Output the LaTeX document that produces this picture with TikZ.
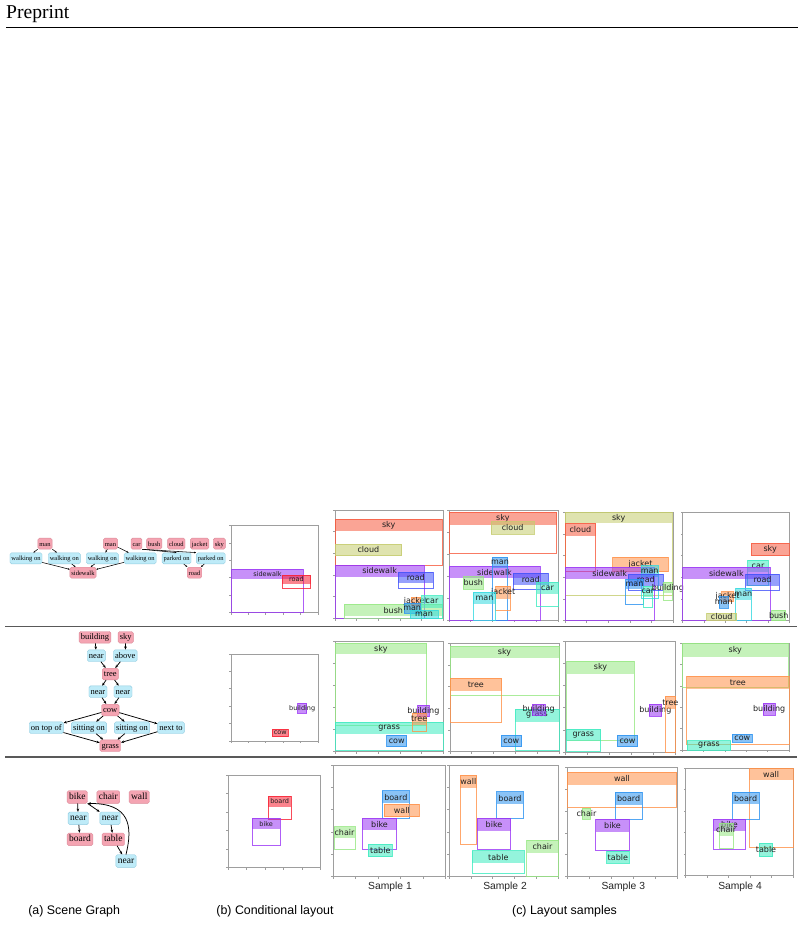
\documentclass[tikz,border=0pt]{standalone}
\usepackage{fontspec}
\setmainfont{Liberation Serif}
\newfontfamily\dvsans{DejaVu Sans}
\newfontfamily\helv{Liberation Sans}
\usetikzlibrary{arrows.meta}
\definecolor{cpurple}{HTML}{9A35F5}
\definecolor{cblue}{HTML}{4152FA}
\definecolor{cdodger}{HTML}{2A92F0}
\definecolor{cturq}{HTML}{33D9E0}
\definecolor{caqua}{HTML}{3DEBC0}
\definecolor{cgreen}{HTML}{96E882}
\definecolor{ckhaki}{HTML}{C5CC6E}
\definecolor{corange}{HTML}{FF9148}
\definecolor{csalmon}{HTML}{F75A3E}
\definecolor{cred}{HTML}{F81E30}
\definecolor{objf}{HTML}{F4A4B2}
\definecolor{objd}{HTML}{DB8C9A}
\definecolor{relf}{HTML}{BEEBF8}
\definecolor{reld}{HTML}{92CCE0}
\newcounter{lbn}
\newcommand\lfs{8}
\newcommand\lb[7]{%
  \stepcounter{lbn}%
  \fill[#1, opacity=.55] (#2,#3) rectangle (#4,#3+#6);
  \draw[#1, draw opacity=.8, line width=.9] (#2,#3) rectangle (#4,#5);
  \node[lbl] (lb\arabic{lbn}) at ({(#2+#4)/2},{#3+#6/2}) {#7};
}
\newcommand\frm[4]{%
  \draw[axfr] (#1,#2) rectangle (#3,#4);
  \foreach \k in {0,...,5}{%
    \draw[axfr] (#1,{#2+\k*(#4-#2)/5}) -- ++(-2.2,0);
    \draw[axfr] ({#1+\k*(#3-#1)/5},#4) -- ++(0,2.2);
  }
}
\begin{document}
\begin{tikzpicture}[x=1pt,y=-1pt,
  axfr/.style={draw=black!38, line width=.9},
  lbl/.style={inner sep=0, text=black!88, font=\dvsans\fontsize{\lfs}{\lfs}\selectfont},
  obj/.style={draw=objd, fill=objf, rounded corners=1.6, line width=.4, text height=.7em, text depth=.22em},
  rel/.style={draw=reld, fill=relf, rounded corners=1.6, line width=.4, text height=.7em, text depth=.22em},
  rowa/.style={font=\fontsize{6.5}{6.5}\selectfont, inner xsep=1.5, inner ysep=.9},
  rowb/.style={font=\fontsize{8.5}{8.5}\selectfont, inner xsep=1.7, inner ysep=1.2},
  rowc/.style={font=\fontsize{9.5}{9.5}\selectfont, inner xsep=2, inner ysep=1.7},
  sgedge/.style={-{Stealth[length=3.2pt,width=2.6pt]}, line width=.75},
  sgedgea/.style={-{Stealth[length=2pt,width=1.6pt]}, line width=.55},
  sepline/.style={draw=black!65, line width=1.6},
  samp/.style={font=\helv\fontsize{10.3}{10.3}\selectfont, text=black!85, inner sep=0},
  capt/.style={font=\helv\fontsize{12.4}{12.4}\selectfont, inner sep=0}]
\useasboundingbox (0,0) rectangle (804,925);
\fill[white] (0,0) rectangle (804,925);

% header
\node[anchor=base west, inner sep=0, font=\fontsize{19.6}{19.6}\selectfont] (hdr) at (6,19) {Preprint};
\draw[line width=.8] (6,27) -- (798,27);

% separators
\draw[sepline] (5,626.5) -- (797,626.5);
\draw[sepline] (5,756.7) -- (797,756.7);

% ---------------- Row 1 scene graph
\begin{scope}[every node/.append style={rowa}]
\node[obj] (r1man1) at (45,543.6) {man};
\node[obj] (r1man2) at (110.5,543.6) {man};
\node[obj] (r1car) at (136.5,543.6) {car};
\node[obj] (r1bush) at (154.3,543.6) {bush};
\node[obj] (r1cloud) at (176.3,543.6) {cloud};
\node[obj] (r1jacket) at (199.6,543.6) {jacket};
\node[obj] (r1sky) at (219.3,543.6) {sky};
\node[rel] (r1wo1) at (26,558.3) {walking on};
\node[rel] (r1wo2) at (64.3,558.3) {walking on};
\node[rel] (r1wo3) at (102.3,558.3) {walking on};
\node[rel] (r1wo4) at (140.2,558.3) {walking on};
\node[rel] (r1po1) at (176.6,558.3) {parked on};
\node[rel] (r1po2) at (210.8,558.3) {parked on};
\node[obj] (r1sw) at (83,572.7) {sidewalk};
\node[obj] (r1road) at (194.5,572.7) {road};
\end{scope}
\draw[sgedgea] (r1man1) -- (r1wo1);
\draw[sgedgea] (r1man1) -- (r1wo2);
\draw[sgedgea] (r1man2) -- (r1wo3);
\draw[sgedgea] (r1man2) -- (r1wo4);
\draw[sgedgea] (r1car.south east) -- (r1po1.north);
\draw[sgedgea] (r1car.south east) -- (r1po2.north west);
\draw[sgedgea] (r1wo1) -- (r1sw);
\draw[sgedgea] (r1wo2) -- (r1sw);
\draw[sgedgea] (r1wo3) -- (r1sw);
\draw[sgedgea] (r1wo4) -- (r1sw);
\draw[sgedgea] (r1po1) -- (r1road);
\draw[sgedgea] (r1po2) -- (r1road);

% ---------------- Row 2 scene graph
\begin{scope}[every node/.append style={rowb}]
\node[obj] (r2build) at (95,637.3) {building};
\node[obj] (r2sky) at (125.7,637.3) {sky};
\node[rel] (r2near1) at (96.3,655.7) {near};
\node[rel] (r2above) at (125.3,655.7) {above};
\node[obj] (r2tree) at (110.3,674) {tree};
\node[rel] (r2near2) at (98,691.7) {near};
\node[rel] (r2near3) at (123,691.7) {near};
\node[obj] (r2cow) at (110.3,710) {cow};
\node[rel] (r2ontop) at (46.3,727.7) {on top of};
\node[rel] (r2sit1) at (89,727.7) {sitting on};
\node[rel] (r2sit2) at (132,727.7) {sitting on};
\node[rel] (r2next) at (171,727.7) {next to};
\node[obj] (r2grass) at (110.3,745.7) {grass};
\end{scope}
\draw[sgedge] (r2build) -- (r2near1);
\draw[sgedge] (r2sky) -- (r2above);
\draw[sgedge] (r2near1) -- (r2tree);
\draw[sgedge] (r2above) -- (r2tree);
\draw[sgedge] (r2tree) -- (r2near2);
\draw[sgedge] (r2tree) -- (r2near3);
\draw[sgedge] (r2near2) -- (r2cow);
\draw[sgedge] (r2near3) -- (r2cow);
\draw[sgedge] (r2cow) -- (r2ontop);
\draw[sgedge] (r2cow) -- (r2sit1);
\draw[sgedge] (r2cow) -- (r2sit2);
\draw[sgedge] (r2cow) -- (r2next);
\draw[sgedge] (r2ontop) -- (r2grass);
\draw[sgedge] (r2sit1) -- (r2grass);
\draw[sgedge] (r2sit2) -- (r2grass);
\draw[sgedge] (r2next) -- (r2grass);

% ---------------- Row 3 scene graph
\begin{scope}[every node/.append style={rowc}]
\node[obj] (r3bike) at (77.3,797) {bike};
\node[obj] (r3chair) at (108.3,797) {chair};
\node[obj] (r3wall) at (139.3,797) {wall};
\node[rel] (r3near1) at (78.3,818.3) {near};
\node[rel] (r3near2) at (110,818.3) {near};
\node[obj] (r3board) at (80,839.3) {board};
\node[obj] (r3table) at (113.3,839.3) {table};
\node[rel] (r3near3) at (126,861) {near};
\end{scope}
\draw[sgedge] (r3bike) -- (r3near1);
\draw[sgedge] (r3near1) -- (r3board);
\draw[sgedge] (r3bike.south east) -- (r3near2.north west);
\draw[sgedge] (r3near2) -- (r3table);
\draw[sgedge] (r3table) -- (r3near3);
\draw[sgedge] (r3near3.north) .. controls (133,826) and (130,803) .. (r3bike.south east);

% ---------------- Row 1 layouts
\begin{scope}
\renewcommand\lfs{6.5}
\frm{231}{525.7}{318.3}{612.3}
\lb{cpurple}{231.7}{569.3}{303.3}{612.3}{9.7}{sidewalk}
\lb{cred}{282.3}{575}{310.7}{588.3}{9}{road}
\end{scope}
\begin{scope}
\frm{335}{510}{443.3}{618.3}
\lb{csalmon}{335}{519}{442.3}{565.7}{12}{sky}
\lb{ckhaki}{335}{544}{401.7}{555.7}{11.7}{cloud}
\lb{cpurple}{335}{565}{424.3}{618.3}{11.7}{sidewalk}
\lb{cblue}{398.3}{572.3}{433.3}{588.3}{11}{road}
\lb{cgreen}{344.3}{604.3}{442.3}{618.3}{12}{bush}
\lb{corange}{411}{597.3}{420.7}{605}{7.7}{jacket}
\lb{caqua}{421.7}{595.7}{442.3}{618.3}{12}{car}
\lb{cdodger}{404.3}{603.3}{420}{613.3}{10}{man}
\lb{cturq}{410}{610}{438}{618.3}{8.3}{man}

\frm{449}{510}{558.3}{620}
\lb{csalmon}{449}{512.3}{556.7}{553.3}{12.7}{sky}
\lb{ckhaki}{491}{521.7}{534.3}{534.3}{12.6}{cloud}
\lb{cpurple}{449}{566}{540}{620}{12.3}{sidewalk}
\lb{cdodger}{492.3}{557.3}{507.7}{620}{11}{man}
\lb{cblue}{513.3}{573.3}{548.3}{589}{11.7}{road}
\lb{cgreen}{463.3}{576.7}{483.3}{589}{12.3}{bush}
\lb{caqua}{536.7}{582.3}{558.3}{606.7}{12}{car}
\lb{corange}{495.7}{586}{510.7}{610}{13}{jacket}
\lb{cturq}{473.3}{592.3}{495.7}{620}{12}{man}

\frm{565}{512.3}{673.3}{620.7}
\lb{ckhaki}{565}{512.3}{672.3}{595}{11}{sky}
\lb{csalmon}{565}{523.3}{595.7}{571.7}{12.3}{cloud}
\lb{corange}{612.7}{557.3}{668.3}{571.7}{14.4}{jacket}
\lb{cpurple}{565}{567.3}{654.3}{620.7}{11.7}{sidewalk}
\lb{cturq}{641}{565.7}{658.3}{598}{11}{man}
\lb{cblue}{628.3}{574}{663.3}{590}{12}{road}
\lb{cdodger}{625.7}{579}{643.3}{604.3}{10}{man}
\lb{caqua}{643.3}{586}{652.3}{607.3}{10.7}{car}
\lb{cgreen}{663.3}{582.3}{672.3}{600.7}{11}{building}

\frm{682.7}{512.3}{789.3}{620.7}
\lb{csalmon}{751}{543.3}{789.3}{555.7}{12.4}{sky}
\lb{caqua}{747.7}{560}{768.3}{585}{11.7}{car}
\lb{cpurple}{682.7}{567.3}{770}{620.7}{11.7}{sidewalk}
\lb{cblue}{745.7}{574}{779.3}{590}{12}{road}
\lb{cturq}{735.7}{588.3}{751}{620.7}{11.7}{man}
\lb{corange}{721.7}{591.7}{733.3}{601.7}{10}{jacket}
\lb{cdodger}{719.3}{596.7}{728.3}{608.3}{11.6}{man}
\lb{ckhaki}{706.7}{613.3}{736.7}{620.7}{7.4}{cloud}
\lb{cgreen}{771.7}{610}{785.7}{620.7}{10.7}{bush}
\end{scope}

% ---------------- Row 2 layouts
\begin{scope}
\renewcommand\lfs{6.5}
\frm{231}{654}{318.3}{741}
\lb{cpurple}{297.7}{703.3}{306.7}{713.3}{10}{building}
\lb{cred}{272.3}{729}{288.3}{736.7}{7.7}{cow}
\end{scope}
\begin{scope}
\frm{335}{641.7}{443.3}{751.7}
\lb{cgreen}{335}{643.3}{426.7}{725}{11}{sky}
\lb{caqua}{335}{722.3}{443.3}{750}{12}{grass}
\lb{cpurple}{417.7}{705}{429}{716.7}{11.7}{building}
\lb{corange}{412.3}{713.3}{426}{731.7}{11.7}{tree}
\lb{cdodger}{386.7}{735}{406.7}{746.7}{11.7}{cow}

\frm{450}{643.3}{559}{751.7}
\lb{cgreen}{450}{646}{559}{695}{12.3}{sky}
\lb{corange}{450}{678.3}{501.7}{722.7}{12.3}{tree}
\lb{caqua}{515}{709}{559}{750}{12.7}{grass}
\lb{cpurple}{532.3}{704.3}{545}{715}{10.7}{building}
\lb{cdodger}{501}{735}{521.7}{746.7}{11.7}{cow}

\frm{565}{641}{675.7}{752.3}
\lb{cgreen}{566.7}{661}{634.3}{740}{13}{sky}
\lb{caqua}{566}{729.3}{600.7}{751.7}{11.7}{grass}
\lb{cdodger}{617.3}{735}{637.7}{746.7}{11.7}{cow}
\lb{cpurple}{649}{704}{661.7}{716}{12}{building}
\lb{corange}{665}{696}{675.7}{752.3}{13}{tree}

\frm{682.3}{643.3}{789}{750}
\lb{cgreen}{682.3}{643.3}{788.3}{687.7}{13.4}{sky}
\lb{corange}{686.7}{676}{789}{744.3}{13}{tree}
\lb{cpurple}{763.3}{703.3}{775}{715}{11.7}{building}
\lb{cdodger}{732.3}{734}{752.3}{742.3}{8.3}{cow}
\lb{caqua}{687.3}{740.7}{730.7}{750}{9.3}{grass}
\end{scope}

% ---------------- Row 3 layouts
\begin{scope}
\renewcommand\lfs{6.5}
\frm{228.3}{775}{320.7}{867.7}
\lb{cred}{268.3}{796}{291}{819.3}{10.7}{board}
\lb{cpurple}{252.3}{818.3}{280}{845}{10.7}{bike}
\end{scope}
\begin{scope}
\frm{333.3}{765}{445.7}{876.7}
\lb{cdodger}{382.3}{790.7}{409.3}{818.3}{12.7}{board}
\lb{corange}{384.3}{804.3}{419.3}{816.7}{12.4}{wall}
\lb{cpurple}{362.3}{818.3}{396.7}{849.3}{11.7}{bike}
\lb{cgreen}{334}{826.7}{355}{849.3}{11.7}{chair}
\lb{caqua}{368.3}{844.3}{392.3}{856.7}{12.4}{table}

\frm{449.3}{765}{558.3}{876.7}
\lb{corange}{460}{775}{476.7}{844.3}{12.7}{wall}
\lb{cdodger}{496.7}{791.7}{523.3}{818.3}{12.7}{board}
\lb{cpurple}{477.3}{818.3}{510.7}{849.3}{12.3}{bike}
\lb{caqua}{472.3}{850.7}{524.3}{873.3}{12.7}{table}
\lb{cgreen}{526.7}{840}{558.3}{876}{12.7}{chair}

\frm{567.3}{767.3}{677.3}{876.7}
\lb{corange}{567.3}{772.3}{676.7}{807.3}{12.7}{wall}
\lb{cdodger}{615}{792.3}{642.3}{819.3}{12.7}{board}
\lb{cgreen}{582.3}{808.3}{590.7}{819.3}{11}{chair}
\lb{cpurple}{595.7}{819.3}{629.3}{850}{12.3}{bike}
\lb{caqua}{606.7}{851}{629}{863.3}{12.3}{table}

\frm{685.7}{768.3}{793.3}{875.7}
\lb{corange}{749}{768.3}{793.3}{847.3}{11.7}{wall}
\lb{cdodger}{732.3}{792.3}{759}{819}{12}{board}
\lb{cpurple}{713.3}{819}{745.7}{849.3}{12}{bike}
\lb{cgreen}{719}{823.3}{733.3}{848.3}{12.7}{chair}
\lb{caqua}{759.3}{843.3}{772.7}{856.7}{13.4}{table}
\end{scope}

% sample labels
\node[samp] (s1) at (390,886.7) {Sample 1};
\node[samp] (s2) at (505,886.7) {Sample 2};
\node[samp] (s3) at (623.3,886.7) {Sample 3};
\node[samp] (s4) at (740,886.7) {Sample 4};

% captions
\node[capt] (capa) at (74.2,911.7) {(a) Scene Graph};
\node[capt] (capb) at (275,911.7) {(b) Conditional layout};
\node[capt] (capc) at (564.5,911.7) {(c) Layout samples};
\end{tikzpicture}
\end{document}
